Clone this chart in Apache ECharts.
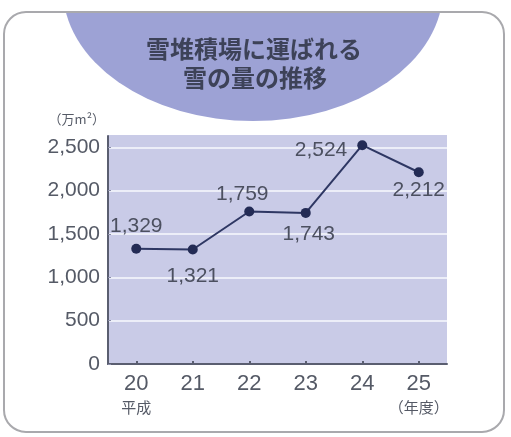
<!DOCTYPE html>
<html>
<head>
<meta charset="utf-8">
<script src="https://cdn.jsdelivr.net/npm/echarts@6/dist/echarts.min.js"></script>
<style>
  html, body { margin: 0; padding: 0; background: #ffffff; }
  #chart { width: 511px; height: 437px; }
</style>
</head>
<body>
<div id="chart"></div>
<script>
// 平成20〜25年度 雪堆積場に運ばれた雪の量（万m²）
const years = ['20', '21', '22', '23', '24', '25'];
const yearNotes = ['平成', '', '', '', '', '（年度）'];
const snowVolume = [1329, 1321, 1759, 1743, 2524, 2212];
const yTicks = [0, 500, 1000, 1500, 2000, 2500];

// where each value label sits relative to its point
const labelPlace = [
  { position: 'top', distance: 7, offset: [0, 0] },
  { position: 'bottom', distance: 11, offset: [0, 0] },
  { position: 'top', distance: 2, offset: [-7, 0] },
  { position: 'bottom', distance: 6, offset: [3, 0] },
  { position: 'left', distance: 10, offset: [0, 5] },
  { position: 'bottom', distance: 2, offset: [0, 0] }
];

const fmt = v => String(v).replace(/\B(?=(\d{3})+(?!\d))/g, ',');
const FONT = '"Liberation Sans", "Noto Sans CJK JP", sans-serif';
const CJK = '"Noto Sans CJK JP", sans-serif';

const chart = echarts.init(document.getElementById('chart'), null, { renderer: 'canvas' });

const seriesData = snowVolume.map((v, i) => ({
  value: v,
  label: labelPlace[i]
}));

chart.setOption({
  backgroundColor: '#ffffff',
  animation: false,
  textStyle: { fontFamily: FONT },
  graphic: [
    // headline badge
    {
      type: 'circle', z: 1, silent: true,
      x: 253, y: -11, scaleX: 1.44, scaleY: 1,
      shape: { cx: 0, cy: 0, r: 132 },
      style: { fill: '#9da2d5' }
    },
    {
      type: 'rect', z: 2, silent: true,
      shape: { x: 0, y: 0, width: 511, height: 12 },
      style: { fill: '#ffffff' }
    },
    {
      type: 'rect', z: 3, silent: true,
      shape: { x: 4, y: 12, width: 500, height: 420, r: 22 },
      style: { fill: 'none', stroke: '#a9a9ad', lineWidth: 2 }
    },
    {
      type: 'text', z: 4, silent: true,
      x: 254, y: 49,
      style: {
        text: '雪堆積場に運ばれる',
        font: 'bold 24px ' + CJK,
        fill: '#3d4258', align: 'center', verticalAlign: 'middle'
      }
    },
    {
      type: 'text', z: 4, silent: true,
      x: 255, y: 78,
      style: {
        text: '雪の量の推移',
        font: 'bold 24px ' + CJK,
        fill: '#3d4258', align: 'center', verticalAlign: 'middle'
      }
    }
  ],
  grid: {
    left: 108, right: 64, top: 136, bottom: 73,
    show: true, backgroundColor: '#c9cbe7', borderWidth: 0
  },
  xAxis: {
    type: 'category',
    data: years,
    boundaryGap: true,
    axisLine: { lineStyle: { color: '#5a5e70', width: 2 } },
    axisTick: { show: true, inside: true, alignWithLabel: true, interval: 0, length: 3, lineStyle: { color: '#5a5e70', width: 2 } },
    axisLabel: {
      interval: 0,
      margin: 8,
      color: '#555a66',
      formatter: (v, i) => '{n|' + v + '}' + (yearNotes[i] ? '\n{s|' + yearNotes[i] + '}' : ''),
      rich: {
        n: { fontSize: 22, lineHeight: 24, fontFamily: FONT, color: '#555a66' },
        s: { fontSize: 15, lineHeight: 22, fontFamily: CJK, color: '#555a66' }
      }
    }
  },
  yAxis: {
    type: 'value',
    min: 0, max: 2630, interval: 500,
    name: '（万m²）',
    nameLocation: 'end',
    nameGap: 10,
    nameTextStyle: { fontSize: 13, color: '#555a66', fontFamily: CJK, align: 'right', padding: [0, 3, 0, 0] },
    axisLine: { show: true, lineStyle: { color: '#5a5e70', width: 2 } },
    axisTick: { show: true, inside: true, length: 3, lineStyle: { color: '#8a8da8' } },
    axisLabel: {
      margin: 8, fontSize: 21, color: '#555a66',
      showMaxLabel: false,
      formatter: v => (yTicks.indexOf(v) >= 0 ? fmt(v) : '')
    },
    splitLine: {
      show: true,
      lineStyle: {
        width: 2,
        color: ['#eceef8', '#eceef8', '#eceef8', '#eceef8', '#eceef8', '#eceef8', '#c9cbe7']
      }
    }
  },
  series: [{
    type: 'line',
    data: seriesData,
    symbol: 'circle',
    symbolSize: 10,
    lineStyle: { color: '#2e3763', width: 2 },
    itemStyle: { color: '#232b55' },
    label: {
      show: true,
      fontSize: 21,
      color: '#4c5060',
      fontFamily: FONT,
      formatter: p => fmt(p.value)
    },
    z: 5
  }]
});
</script>
</body>
</html>
